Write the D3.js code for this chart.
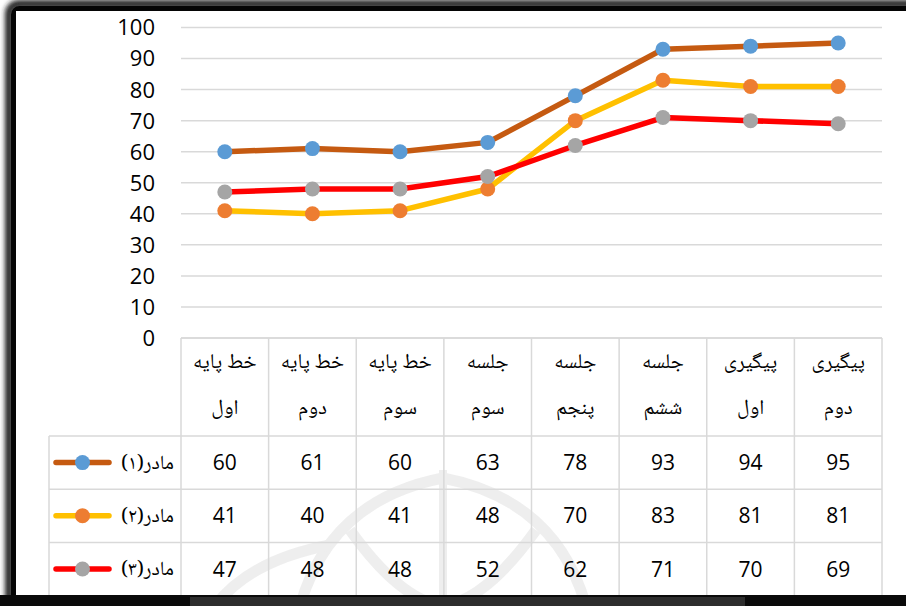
<!DOCTYPE html>
<html>
<head>
<meta charset="utf-8">
<script src="https://cdn.jsdelivr.net/npm/d3@7"></script>
<style>
  body { margin: 0; background: #fff; }
  svg { display: block; }
</style>
</head>
<body>
<div id="chart"></div>
<script>
// categories (two header lines each)
var catTop = ['خط پایه', 'خط پایه', 'خط پایه', 'جلسه', 'جلسه', 'جلسه', 'پیگیری', 'پیگیری'];
var catBottom = ['اول', 'دوم', 'سوم', 'سوم', 'پنجم', 'ششم', 'اول', 'دوم'];
var seriesNames = ['مادر(۱)', 'مادر(۲)', 'مادر(۳)'];
var mother1 = [60, 61, 60, 63, 78, 93, 94, 95];
var mother2 = [41, 40, 41, 48, 70, 83, 81, 81];
var mother3 = [47, 48, 48, 52, 62, 71, 70, 69];
var yTicks = [0, 10, 20, 30, 40, 50, 60, 70, 80, 90, 100];

var lineColors = ['#C55A11', '#FFC000', '#FF0000'];
var markColors = ['#5B9BD5', '#ED7D31', '#A5A5A5'];

var W = 906, H = 606;
var plotL = 181, plotR = 882, plotTop = 27.5, plotBot = 338;
var legL = 49, rowH = 53.2, headH = 98;
var numFont = '"Open Sans", sans-serif';
var faFont = '"Noto Naskh Arabic", "DejaVu Sans", sans-serif';

var svg = d3.select('#chart').append('svg').attr('width', W).attr('height', H);

var idx = d3.range(catTop.length);
var x = d3.scaleBand().domain(idx).range([plotL, plotR]).padding(0);
var y = d3.scaleLinear().domain([0, 100]).range([plotBot, plotTop]);

// frame with soft shadow
var defs = svg.append('defs');
defs.append('filter').attr('id', 'blur').attr('x', '-5%').attr('y', '-5%').attr('width', '110%').attr('height', '110%')
  .append('feGaussianBlur').attr('stdDeviation', 2.5);

var frame = svg.append('g');
frame.append('rect').attr('x', 9).attr('y', 4).attr('width', W + 20).attr('height', H + 20)
  .attr('rx', 10).attr('fill', 'none').attr('stroke', '#222').attr('stroke-width', 8).attr('filter', 'url(#blur)');
frame.append('rect').attr('x', 13.5).attr('y', 8.5).attr('width', W + 20).attr('height', H + 20)
  .attr('rx', 6).attr('fill', 'none').attr('stroke', '#050505').attr('stroke-width', 5);
frame.append('rect').attr('x', 16).attr('y', 11).attr('width', W).attr('height', 584).attr('fill', '#fff');

// faint watermark
var wm = svg.append('g').attr('fill', 'none').attr('stroke', '#c8c8c8').attr('stroke-width', 11).attr('opacity', 0.3);
wm.append('path').attr('d', 'M300 606 Q330 500 443 478');
wm.append('path').attr('d', 'M586 606 Q556 500 443 478');
wm.append('path').attr('d', 'M350 530 Q400 600 443 606');
wm.append('path').attr('d', 'M536 530 Q486 600 443 606');
wm.append('path').attr('d', 'M443 470 L443 606').attr('stroke-width', 8);
wm.append('path').attr('d', 'M215 606 Q250 560 330 545');

// gridlines + y labels
svg.append('g').selectAll('line').data(yTicks).join('line')
  .attr('x1', plotL).attr('x2', plotR)
  .attr('y1', d => y(d)).attr('y2', d => y(d))
  .attr('stroke', '#D9D9D9').attr('stroke-width', 1.5);

svg.append('g').selectAll('text').data(yTicks).join('text')
  .attr('x', 155).attr('y', d => y(d)).attr('dy', '0.36em')
  .attr('text-anchor', 'end').attr('font-family', numFont).attr('font-size', 22).attr('fill', '#000')
  .text(d => d);

// data table
var tb = svg.append('g').attr('stroke', '#D9D9D9').attr('stroke-width', 1.5);
var rowY = [plotBot, plotBot + headH, plotBot + headH + rowH, plotBot + headH + 2 * rowH, plotBot + headH + 3 * rowH];
rowY.forEach(function(ry, i) {
  if (i === rowY.length - 1) return;
  tb.append('line').attr('x1', i === 0 ? plotL : legL).attr('x2', plotR).attr('y1', ry).attr('y2', ry);
});
idx.concat([idx.length]).forEach(function(i) {
  var xx = i < idx.length ? x(i) : plotR;
  tb.append('line').attr('x1', xx).attr('x2', xx).attr('y1', plotBot).attr('y2', rowY[4]);
});
tb.append('line').attr('x1', legL).attr('x2', legL).attr('y1', rowY[1]).attr('y2', rowY[4]);

var head = svg.append('g').attr('font-family', faFont).attr('font-size', 21).attr('text-anchor', 'middle').attr('fill', '#000');
head.selectAll('text.t').data(idx).join('text').attr('class', 't')
  .attr('x', d => x(d) + x.bandwidth() / 2).attr('y', 368).attr('direction', 'rtl')
  .text(d => catTop[d]);
head.selectAll('text.b').data(idx).join('text').attr('class', 'b')
  .attr('x', d => x(d) + x.bandwidth() / 2).attr('y', 414).attr('direction', 'rtl')
  .text(d => catBottom[d]);

var series = [mother1, mother2, mother3];
series.forEach(function(vals, s) {
  var cy = rowY[s + 1] + rowH / 2;
  svg.append('g').selectAll('text').data(vals).join('text')
    .attr('x', (d, i) => x(i) + x.bandwidth() / 2).attr('y', cy).attr('dy', '0.36em')
    .attr('text-anchor', 'middle').attr('font-family', numFont).attr('font-size', 21).attr('fill', '#000')
    .text(d => d);
  // legend key
  var lg = svg.append('g');
  lg.append('line').attr('x1', 56).attr('x2', 109).attr('y1', cy).attr('y2', cy)
    .attr('stroke', lineColors[s]).attr('stroke-width', 5.5).attr('stroke-linecap', 'round');
  lg.append('circle').attr('cx', 82.5).attr('cy', cy).attr('r', 7.5).attr('fill', markColors[s]);
  lg.append('text').attr('x', 174).attr('y', cy).attr('dy', '0.3em')
    .attr('direction', 'rtl').attr('text-anchor', 'start')
    .attr('font-family', faFont).attr('font-size', 20).attr('fill', '#000')
    .text(seriesNames[s]);
});

// lines + markers
var line = d3.line().x((d, i) => x(i) + x.bandwidth() / 2).y(d => y(d));
series.forEach(function(vals, s) {
  svg.append('path').datum(vals).attr('d', line).attr('fill', 'none')
    .attr('stroke', lineColors[s]).attr('stroke-width', 5.5).attr('stroke-linejoin', 'round');
  svg.append('g').selectAll('circle').data(vals).join('circle')
    .attr('cx', (d, i) => x(i) + x.bandwidth() / 2).attr('cy', d => y(d)).attr('r', 7.5)
    .attr('fill', markColors[s]);
});

// bottom frame bar
svg.append('rect').attr('x', 0).attr('y', 595).attr('width', W).attr('height', 11).attr('fill', '#0a0a0a');
svg.append('rect').attr('x', 190).attr('y', 597).attr('width', 555).attr('height', 9).attr('fill', '#2d2d2d');
</script>
</body>
</html>
